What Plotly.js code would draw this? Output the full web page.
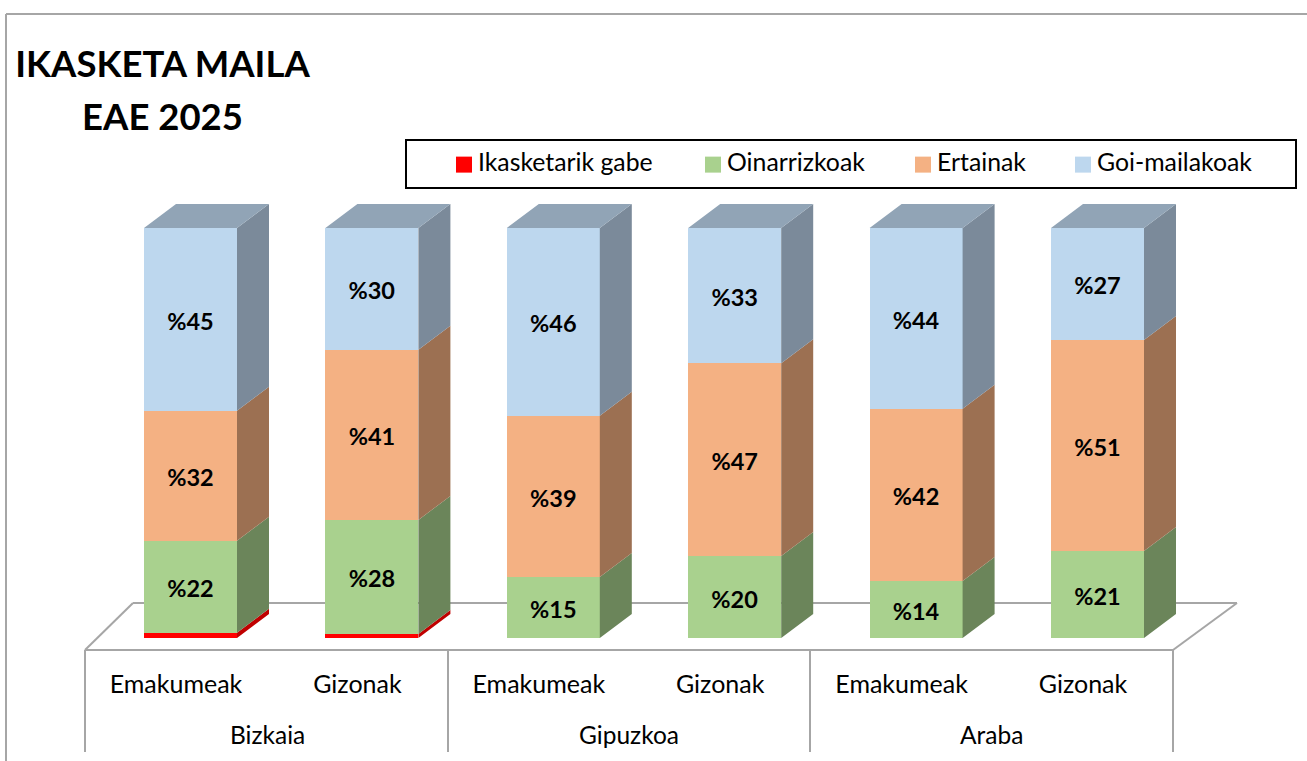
<!DOCTYPE html>
<html>
<head>
<meta charset="utf-8">
<script src="https://cdn.plot.ly/plotly-3.0.1.min.js"></script>
<style>html,body{margin:0;padding:0;background:#fff;overflow:hidden}#chart{width:1307px;height:761px}</style>
</head>
<body>
<div id="chart"></div>
<script>
const positions = [0, 1, 2, 3, 4, 5];
const categories = ["Emakumeak", "Gizonak", "Emakumeak", "Gizonak", "Emakumeak", "Gizonak"];
const groups = ["Bizkaia", "Gipuzkoa", "Araba"];
const seriesNames = ["Ikasketarik gabe", "Oinarrizkoak", "Ertainak", "Goi-mailakoak"];
const gabe = [1.3, 1.0, 0, 0, 0, 0];
const oinarrizkoak = [22.4, 27.8, 14.9, 20.0, 13.9, 21.2];
const ertainak = [31.7, 41.5, 39.3, 47.0, 42.0, 51.5];
const goimailakoak = [44.6, 29.7, 45.8, 33.0, 44.1, 27.3];
const labelsGabe = ["", "", "", "", "", ""];
const labelsOinarrizkoak = ["%22", "%28", "%15", "%20", "%14", "%21"];
const labelsErtainak = ["%32", "%41", "%39", "%47", "%42", "%51"];
const labelsGoi = ["%45", "%30", "%46", "%33", "%44", "%27"];

const frontColors = ["#ff0000", "#a9d18e", "#f4b183", "#bdd7ee"];
const sideColors = ["#c00000", "#6b855a", "#9c7052", "#7b8a9a"];
const topColor = "#91a4b6";
const FONT = "Lato, Carlito, Calibri, sans-serif";

const W = 1307, H = 761, pxPerUnit = 4.1, pitch = 181.4;
const x0px = 190.5, basePx = 638, axisPx = 650;
const xOf = p => (p - x0px) / pitch;
const yOf = p => (basePx - p) / pxPerUnit;
const barW = 93 / pitch, hw = barW / 2, dx = 32 / pitch, dy = 24 / pxPerUnit;

const seriesVals = [gabe, oinarrizkoak, ertainak, goimailakoak];
const seriesLabels = [labelsGabe, labelsOinarrizkoak, labelsErtainak, labelsGoi];

const traces = seriesVals.map((v, s) => ({
  type: "bar", name: seriesNames[s], x: positions, y: v, width: barW,
  text: seriesLabels[s], textposition: s === 0 ? "none" : "inside", insidetextanchor: "middle",
  textangle: 0, constraintext: "none",
  textfont: {family: FONT, size: 23.5, color: "#000", weight: 700},
  marker: {color: frontColors[s], line: {width: 0}},
  hoverinfo: "name+y"
}));

let cum = positions.map(() => 0);
seriesVals.forEach((v, s) => {
  const xs = [], ys = [];
  positions.forEach((p, i) => {
    const b = cum[i], t = cum[i] + v[i];
    if (v[i] > 0) {
      xs.push(p + hw, p + hw + dx, p + hw + dx, p + hw, p + hw, null);
      ys.push(b, b + dy, t + dy, t, b, null);
    }
    cum[i] = t;
  });
  traces.push({type: "scatter", mode: "lines", x: xs, y: ys, fill: "toself", fillcolor: sideColors[s],
    line: {width: 0, color: sideColors[s]}, showlegend: false, hoverinfo: "skip"});
});
const tx = [], ty = [];
positions.forEach((p, i) => {
  tx.push(p - hw, p + hw, p + hw + dx, p - hw + dx, p - hw, null);
  ty.push(cum[i], cum[i], cum[i] + dy, cum[i] + dy, cum[i], null);
});
traces.push({type: "scatter", mode: "lines", x: tx, y: ty, fill: "toself", fillcolor: topColor,
  line: {width: 0, color: topColor}, showlegend: false, hoverinfo: "skip"});

const grey = "#a6a6a6";
const line = (x1, y1, x2, y2) => ({type: "line", xref: "paper", yref: "paper", x0: x1 / W, y0: 1 - y1 / axisPx, x1: x2 / W, y1: 1 - y2 / axisPx, layer: "below", line: {color: grey, width: 2}});
const shapes = [
  line(6, 14, 1307, 14), line(6, 14, 6, 761),
  line(85, 650, 133, 603), line(133, 603, 1237, 603), line(1237, 603, 1173, 650), line(85, 650, 1173, 650),
  line(85, 650, 85, 752), line(448, 650, 448, 752), line(810, 650, 810, 752), line(1173, 650, 1173, 752)
];

const groupCentersPx = [267, 629, 992];
const annotations = groups.map((g, i) => ({
  text: g, xref: "paper", yref: "paper", x: groupCentersPx[i] / W, y: 1 - 734 / axisPx, yanchor: "middle", xanchor: "center",
  showarrow: false, font: {family: FONT, size: 24.5, color: "#000"}
}));

const layout = {
  width: W, height: H, paper_bgcolor: "#fff", plot_bgcolor: "rgba(0,0,0,0)",
  margin: {l: 0, r: 0, t: 0, b: H - axisPx, pad: 0},
  barmode: "stack", showlegend: true, hovermode: false,
  title: {text: '<b><span style="font-size:36.5px">IKASKETA MAILA</span><br><span style="font-size:36.5px">EAE 2025</span></b>',
    x: 162.5 / W, xanchor: "center", xref: "paper",
    y: 1 - 77 / H, yanchor: "top", yref: "container",
    font: {family: FONT, size: 40.8, color: "#000"}},
  xaxis: {range: [xOf(0), xOf(W)], tickmode: "array", tickvals: positions.map(p => p - 0.08), ticktext: categories, showgrid: false, zeroline: false,
    showline: false, ticks: "", ticklabelstandoff: 17, tickfont: {family: FONT, size: 25, color: "#000"}, fixedrange: true},
  yaxis: {range: [yOf(axisPx), yOf(0)], visible: false, fixedrange: true},
  legend: {orientation: "h", x: 405 / W, xanchor: "left", y: 1 - 139 / axisPx, yanchor: "top", bordercolor: "#000", borderwidth: 2,
    bgcolor: "#fff", font: {family: FONT, size: 24.8, color: "#000"}, traceorder: "normal"},
  shapes, annotations
};

// Legend entries in the reference are spaced unevenly and use larger swatches.
const legendBox = {width: 890, height: 48};
const swatchCentersPx = [464, 713, 923, 1083];
Plotly.newPlot("chart", traces, layout, {displayModeBar: false, responsive: false}).then(gd => {
  const bg = gd.querySelector(".legend rect.bg");
  bg.setAttribute("width", legendBox.width);
  bg.setAttribute("height", legendBox.height);
  gd.querySelectorAll('clipPath[id^="legend"] rect').forEach(r => {
    r.setAttribute("width", legendBox.width);
    r.setAttribute("height", legendBox.height);
  });
  gd.querySelectorAll(".legend .traces").forEach((g, i) => {
    const m = /translate\(([^,]+),\s*([^)]+)\)/.exec(g.getAttribute("transform"));
    const y = parseFloat(m[2]);
    g.setAttribute("transform", `translate(${swatchCentersPx[i] - 405 - 20},${y + 1})`);
    const t = g.querySelector(".legendtext");
    t.setAttribute("x", 34);
    t.setAttribute("transform", "translate(0,-3)");
    g.querySelectorAll(".legendpoints path").forEach(p => {
      p.setAttribute("transform", "translate(20,0) scale(1.333)");
    });
  });
  gd.querySelectorAll(".barlayer .bartext").forEach(t => {
    t.setAttribute("transform", (t.getAttribute("transform") || "") + " translate(0,1.5)");
  });
});
</script>
</body>
</html>
